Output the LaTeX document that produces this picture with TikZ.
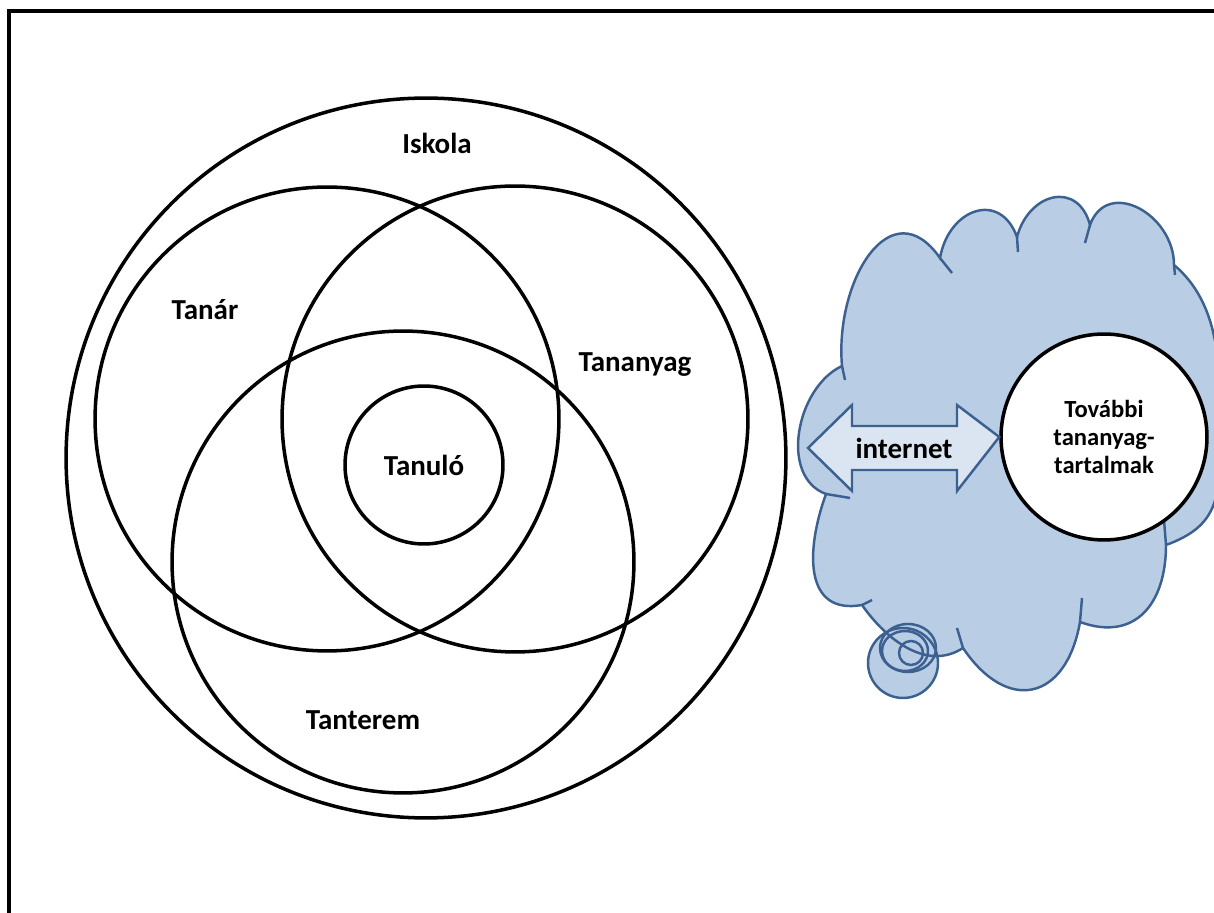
\documentclass[tikz,border=0pt]{standalone}
\usepackage{fontspec}
\setmainfont{Carlito}
\definecolor{cloudblue}{HTML}{3C6190}
\definecolor{cloudfill}{HTML}{B9CDE5}
\definecolor{arrowfill}{HTML}{DBE5F1}

\begin{document}
\begin{tikzpicture}[x=0.02cm,y=0.02cm,
  ring/.style={circle,draw,line width=2pt,inner sep=0pt},
  lbl/.style={font=\bfseries\fontsize{16.5}{19}\selectfont},
  small/.style={font=\bfseries\fontsize{14}{16}\selectfont,align=center},
  cloudline/.style={draw=cloudblue,line width=1.4pt}]

\useasboundingbox (0,0) rectangle (1214,913);
\draw[line width=2pt] (9,0) -- (9,902) -- (1214,902);

% the school
\node [ring,minimum size=14.4cm] (iskola) at (426,455) {};
\node [ring,minimum size=9.28cm] (tanar) at (327,494) {};
\node [ring,minimum size=9.32cm] (tananyag) at (515,494) {};
\node [ring,minimum size=9.24cm] (tanterem) at (403,351) {};
\node [ring,minimum size=3.16cm,lbl] (tanulo) at (424,448) {Tanuló};

\node [lbl] (a) at (437,770) {Iskola};
\node [lbl] (b) at (205,603) {Tanár};
\node [lbl] (c) at (635,548) {Tananyag};
\node [lbl] (d) at (363,193) {Tanterem};

% the cloud
\fill[cloudfill] (903,250) circle [radius=35];
\path[fill=cloudfill,cloudline] (842,547) to[out=95,in=125,looseness=1.5] (940,655)
  to[out=80,in=110,looseness=1.6] (1017,676)
  to[out=75,in=105,looseness=1.6] (1090,688)
  to[out=70,in=90,looseness=1.4] (1174,648)
  to[out=-40,in=90,looseness=0.9] (1220,460)
  to[out=-90,in=20,looseness=1.2] (1166,368)
  to[out=-90,in=-20,looseness=1.3] (1080,291)
  to[out=-100,in=-56,looseness=1.7] (963,265)
  to[out=-147,in=-55,looseness=1] (862,308)
  to[out=190,in=-110,looseness=1.3] (826,419)
  to[out=160,in=205,looseness=1] (842,547) -- cycle;
\draw[cloudline] (842,547) -- (845,533) (940,655) -- (952,640)
  (1017,676) -- (1018,661) (1090,688) -- (1085,670)
  (1174,648) -- (1175,638) (1166,368) -- (1164,393)
  (1080,291) -- (1082,315) (963,265) -- (957,285)
  (862,308) -- (872,313) (826,419) -- (850,415);
\draw[cloudline] (903,250) circle [radius=35];
\draw[cloudline] (908,265) ellipse [x radius=28,y radius=24];
\draw[cloudline] (905,262) ellipse [x radius=23,y radius=20];
\draw[cloudline] (911,260) circle [radius=12];

\node [ring,fill=white,minimum size=4.12cm,small] (tovabbi) at (1104,476) {További\\tananyag-\\tartalmak};

\node [lbl] (net) at (904,465) {internet};
\draw[cloudline,fill=arrowfill] (808,465) -- (852,508) -- (852,487) -- (957,487) -- (957,508)
  -- (tovabbi.west) -- (957,422) -- (957,443) -- (852,443) -- (852,422) -- cycle;
\node [lbl] at (net) {internet};

\end{tikzpicture}
\end{document}
